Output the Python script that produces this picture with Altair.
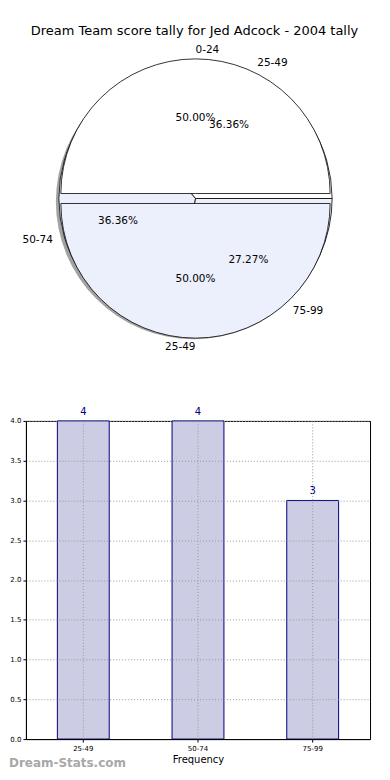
import math
import altair as alt
import pandas as pd

title_text = "Dream Team score tally for Jed Adcock - 2004 tally"

# Pie drawn on top (two halves)
pieA_labels = ["0-24", "25-49"]
pieA_values = [1, 1]
# Pie drawn underneath (three slices)
pieB_labels = ["25-49", "50-74", "75-99"]
pieB_values = [4, 4, 3]

# Bar chart
bar_labels = ["25-49", "50-74", "75-99"]
bar_values = [4, 4, 3]
y_ticks = [0.0, 0.5, 1.0, 1.5, 2.0, 2.5, 3.0, 3.5, 4.0]
watermark = "Dream-Stats.com"

pieA_fills = ["white", "#EBF0FC"]
pieB_fills = ["white", "#EBF0FC", "#EBF0FC"]

FONT = "DejaVu Sans"
PW, PH = 357, 350
CX, CY = 170, 190
R_B, R_A = 137, 135


def pie_base(labels, values):
    df = pd.DataFrame({"label": labels, "value": values, "order": list(range(len(labels)))})
    return (
        alt.Chart(df)
        .transform_joinaggregate(total="sum(value)")
        .transform_window(cum="sum(value)", sort=[alt.SortField("order")], frame=[None, 0])
        .transform_calculate(
            t1="2.5*PI - 2*PI*(datum.cum - datum.value)/datum.total",
            t2="2.5*PI - 2*PI*datum.cum/datum.total",
            tm="2.5*PI - 2*PI*(datum.cum - datum.value/2)/datum.total",
            adeg="360*(datum.cum - datum.value/2)/datum.total",
            pct="format(100*datum.value/datum.total, '.2f') + '%'",
        )
    )


layers = []

# shadow
shadow = alt.Chart(pd.DataFrame({"s": [0]})).mark_arc(
    theta=0, theta2=2 * math.pi, outerRadius=R_B + 1, fill="#7a7a7a", opacity=0.7
).encode(x=alt.value(CX - 2), y=alt.value(CY + 3))
layers.append(shadow)

baseB = pie_base(pieB_labels, pieB_values)
for i, f in enumerate(pieB_fills):
    layers.append(
        baseB.transform_filter(f"datum.order == {i}")
        .mark_arc(outerRadius=R_B, fill=f, stroke="black", strokeWidth=0.8)
        .encode(theta=alt.Theta("t1:Q", scale=None), theta2="t2:Q",
                x=alt.value(CX), y=alt.value(CY))
    )

baseA = pie_base(pieA_labels, pieA_values)
a_centers = [CY - 5, CY + 5]
for i, f in enumerate(pieA_fills):
    layers.append(
        baseA.transform_filter(f"datum.order == {i}")
        .mark_arc(outerRadius=R_A, fill=f, stroke="black", strokeWidth=0.8)
        .encode(theta=alt.Theta("t1:Q", scale=None), theta2="t2:Q",
                x=alt.value(CX), y=alt.value(a_centers[i]))
    )

for base in (baseB, baseA):
    for side, cond in (("left", "datum.adeg < 90.5 || datum.adeg > 270.5"),
                       ("right", "!(datum.adeg < 90.5 || datum.adeg > 270.5)")):
        layers.append(
            base.transform_filter(cond)
            .mark_text(radius=149, align=side, baseline="middle", fontSize=10.5, font=FONT, color="black")
            .encode(theta=alt.Theta("tm:Q", scale=None), text="label:N",
                    x=alt.value(CX), y=alt.value(CY))
        )
    layers.append(
        base.mark_text(radius=81, align="center", baseline="middle", fontSize=10.5, font=FONT, color="black")
        .encode(theta=alt.Theta("tm:Q", scale=None), text="pct:N",
                x=alt.value(CX), y=alt.value(CY))
    )

title_layer = alt.Chart(pd.DataFrame({"t": [title_text]})).mark_text(
    fontSize=13, font=FONT, color="black", align="center", baseline="middle"
).encode(text="t:N", x=alt.value(CX - 1), y=alt.value(22))
layers.append(title_layer)

pie = alt.layer(*layers).properties(
    width=PW, height=PH, view=alt.ViewBackground(strokeWidth=0, stroke="transparent")
)

# ---------- bar chart ----------
bars_df = pd.DataFrame({"range": bar_labels, "count": bar_values})
BW, BH = 345, 319

xenc = alt.X(
    "range:N", sort=bar_labels,
    scale=alt.Scale(paddingInner=0, paddingOuter=0),
    axis=alt.Axis(title="Frequency", labelAngle=0, grid=True, bandPosition=0.5, zindex=1,
                  gridDash=[1, 2], gridColor="#999999", gridWidth=1,
                  labelFontSize=7, labelFont=FONT, tickSize=3, tickColor="black",
                  titleFontSize=10, titleFont=FONT, titleFontWeight="normal", titlePadding=3,
                  domainColor="black", labelColor="black", titleColor="black"),
)
yenc = alt.Y(
    "count:Q", scale=alt.Scale(domain=[0, 4], nice=False),
    axis=alt.Axis(title=None, values=y_ticks, format=".1f", grid=True, zindex=1,
                  labelOverlap=False, labelFlush=False,
                  gridDash=[1, 2], gridColor="#999999", gridWidth=1,
                  labelFontSize=7, labelFont=FONT, tickSize=3, tickColor="black",
                  labelPadding=2, domainColor="black", labelColor="black"),
)

bbase = alt.Chart(bars_df).encode(x=xenc, y=yenc)
bars = bbase.mark_bar(width=52, fill="#CCCCE4", stroke="#000080", strokeWidth=1)
vals = bbase.mark_text(dy=-9, color="#000080", fontSize=10, font=FONT, baseline="middle").encode(
    text="count:Q")
wm = alt.Chart(pd.DataFrame({"t": [watermark]})).mark_text(
    align="left", baseline="middle", fontSize=12, fontWeight="bold", font=FONT, color="#a8a8a8"
).encode(text="t:N", x=alt.value(-17), y=alt.value(BH + 24))

bar_chart = alt.layer(bars, vals, wm).properties(
    width=BW, height=BH, view=alt.ViewBackground(stroke="black", strokeWidth=1)
)

chart = alt.vconcat(pie, bar_chart, spacing=48).properties(
    padding={"left": 0, "top": 0, "right": 0, "bottom": 0}
).configure_view(strokeWidth=0).configure(font=FONT)

chart.save("out.html", embed_options={"renderer": "svg", "actions": False})
